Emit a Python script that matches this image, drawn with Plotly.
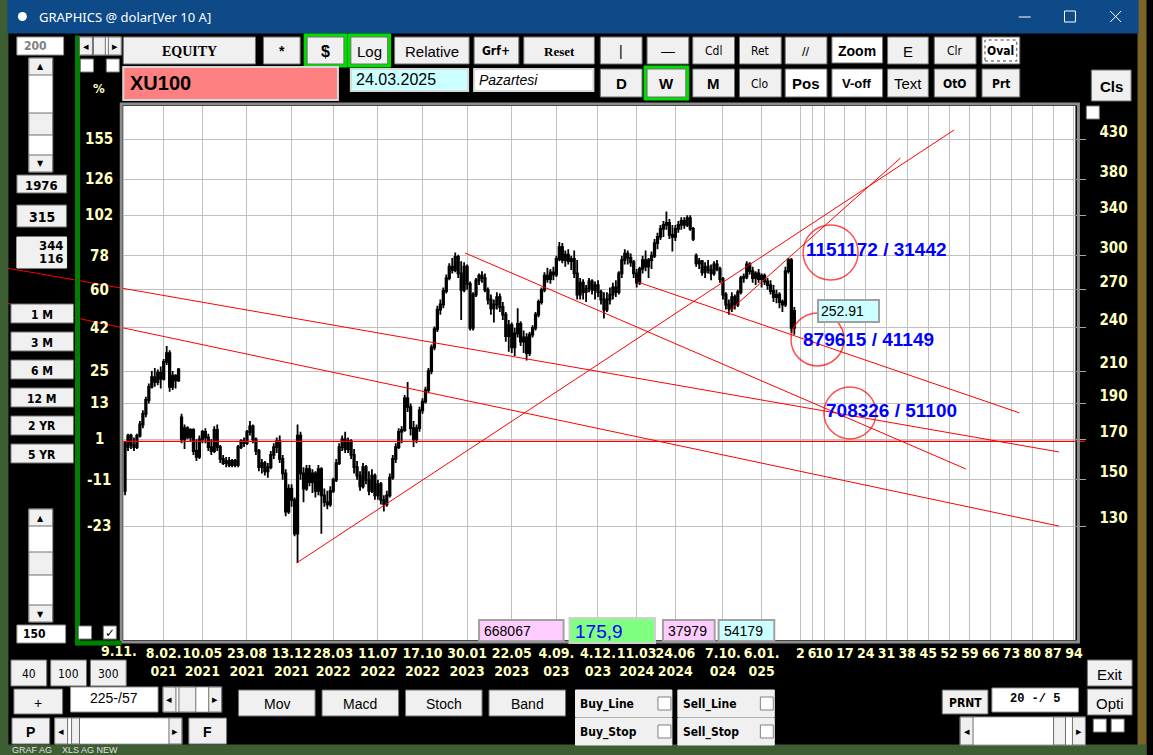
import numpy as np
import plotly.graph_objects as go

W, H = 1153, 755

# ---------------- data (weekly bars, last bar = 24.03.2025 at index 0) ----------------
opens = [
    145, 166, 172, 167, 166, 172, 178, 184, 192, 200,
    206, 203, 209, 205, 216, 222, 200, 207, 204, 182,
    170, 176, 171, 175, 164, 161, 170, 174, 171, 166,
    164, 175, 166, 160, 158, 159, 157, 159, 157, 166,
    169, 168, 174, 177, 170, 164, 156, 158, 154, 156,
    162, 166, 169, 160, 153, 136, 146, 141, 127, 172,
    153, 146, 155, 149, 153, 145, 155, 143, 140, 139,
    145, 150, 158, 166, 170, 165, 169, 162, 156, 152,
    147, 156, 150, 145, 152, 143, 148, 141, 139, 143,
    151, 160, 166, 174, 175, 193, 188, 176, 170, 176,
    186, 191, 198, 210, 226, 239, 254, 258, 269, 280,
    290, 287, 299, 284, 270, 290, 275, 240, 266, 278,
    282, 280, 270, 262, 255, 258, 264, 256, 250, 234,
    242, 226, 236, 243, 230, 233, 222, 235, 240, 250,
    260, 270, 282, 279, 285, 283, 297, 308, 296, 301,
    295, 297, 284, 266, 276, 268, 271, 277, 270, 274,
    268, 262, 254, 262, 266, 272, 268, 284, 296, 302,
    298, 294, 284, 276, 288, 296, 290, 296, 300, 312,
    318, 326, 330, 332, 320, 318, 326, 330, 334, 330,
    337, 326, 300, 293, 295, 285, 290, 287, 284, 292,
    288, 279, 266, 258, 255, 264, 258, 268, 280, 281,
    292, 286, 280, 284, 279, 282, 277, 274, 269, 264,
    266, 260, 258, 286, 296, 240,
]
highs = [
    169, 173, 173, 171, 173, 180, 186, 194, 202, 210,
    212, 211, 213, 218, 227, 224, 210, 208, 212, 184,
    178, 177, 176, 176, 170, 172, 175, 176, 173, 170,
    177, 178, 167, 162, 161, 161, 160, 160, 167, 170,
    171, 175, 180, 178, 171, 165, 160, 159, 158, 164,
    168, 171, 172, 162, 155, 148, 148, 142, 178, 174,
    156, 157, 157, 155, 154, 157, 156, 146, 145, 147,
    151, 160, 168, 172, 174, 171, 170, 165, 159, 154,
    158, 157, 154, 155, 153, 150, 149, 143, 145, 153,
    162, 168, 176, 177, 195, 203, 190, 180, 178, 188,
    193, 200, 212, 228, 241, 257, 262, 272, 283, 293,
    298, 303, 301, 295, 294, 292, 277, 268, 280, 284,
    286, 284, 272, 266, 262, 268, 267, 260, 252, 246,
    244, 240, 255, 245, 238, 236, 237, 242, 252, 262,
    272, 285, 289, 288, 290, 300, 313, 312, 305, 306,
    300, 305, 296, 280, 279, 274, 280, 279, 277, 278,
    270, 268, 268, 272, 276, 278, 286, 300, 306, 305,
    302, 296, 288, 290, 300, 305, 298, 304, 316, 322,
    330, 334, 344, 336, 330, 330, 334, 338, 338, 340,
    340, 328, 302, 298, 296, 294, 296, 292, 295, 296,
    290, 281, 268, 262, 268, 266, 270, 282, 284, 295,
    294, 290, 286, 288, 284, 284, 280, 278, 274, 270,
    268, 262, 290, 298, 298, 256,
]
lows = [
    143, 164, 165, 164, 165, 171, 176, 182, 190, 199,
    200, 201, 199, 204, 214, 197, 198, 199, 203, 168,
    165, 170, 169, 162, 159, 160, 168, 168, 164, 162,
    163, 164, 158, 157, 156, 156, 156, 156, 156, 165,
    166, 167, 172, 168, 162, 154, 153, 152, 151, 155,
    160, 163, 158, 150, 134, 135, 138, 126, 116, 150,
    140, 145, 147, 144, 142, 143, 127, 138, 137, 138,
    144, 149, 157, 164, 163, 163, 160, 153, 150, 145,
    146, 148, 143, 144, 141, 141, 139, 136, 138, 142,
    150, 158, 165, 168, 174, 185, 172, 166, 168, 174,
    184, 190, 196, 208, 224, 237, 250, 255, 267, 278,
    284, 285, 280, 246, 268, 270, 238, 238, 264, 274,
    276, 268, 258, 250, 244, 254, 252, 246, 230, 223,
    222, 220, 233, 227, 222, 217, 220, 233, 238, 248,
    258, 268, 276, 275, 278, 281, 295, 293, 290, 292,
    287, 280, 262, 262, 262, 260, 268, 266, 262, 264,
    258, 247, 252, 258, 262, 264, 266, 280, 292, 292,
    290, 280, 272, 274, 284, 286, 280, 288, 298, 306,
    315, 318, 325, 316, 304, 314, 322, 325, 326, 328,
    324, 314, 290, 288, 282, 280, 284, 278, 282, 286,
    276, 262, 254, 250, 252, 254, 256, 266, 276, 279,
    283, 276, 274, 276, 272, 274, 270, 266, 260, 259,
    255, 252, 256, 284, 236, 235,
]
closes = [
    168, 172, 167, 166, 172, 178, 184, 192, 200, 206,
    203, 209, 205, 216, 222, 200, 207, 204, 211, 170,
    176, 171, 175, 164, 161, 170, 174, 171, 166, 164,
    175, 166, 160, 158, 159, 157, 159, 157, 166, 169,
    168, 174, 177, 170, 164, 156, 158, 154, 156, 162,
    166, 169, 160, 153, 136, 146, 141, 127, 172, 153,
    146, 155, 149, 153, 145, 155, 143, 140, 139, 145,
    150, 158, 166, 170, 165, 169, 162, 156, 152, 147,
    156, 150, 145, 152, 143, 148, 141, 139, 143, 151,
    160, 166, 174, 175, 193, 188, 176, 170, 176, 186,
    191, 198, 210, 226, 239, 254, 258, 269, 280, 290,
    287, 299, 284, 270, 290, 275, 240, 266, 278, 282,
    280, 270, 262, 255, 258, 264, 256, 250, 234, 242,
    226, 236, 243, 230, 233, 222, 235, 240, 250, 260,
    270, 282, 279, 285, 283, 297, 308, 296, 301, 295,
    297, 284, 266, 276, 268, 271, 277, 270, 274, 268,
    262, 254, 262, 266, 272, 268, 284, 296, 302, 298,
    294, 284, 276, 288, 296, 290, 296, 300, 312, 318,
    326, 330, 332, 320, 318, 326, 330, 334, 330, 337,
    326, 316, 293, 295, 285, 290, 287, 284, 292, 288,
    279, 266, 258, 255, 264, 258, 268, 280, 281, 292,
    286, 280, 284, 279, 282, 277, 274, 269, 264, 266,
    260, 258, 286, 296, 240, 252.91,
]
bar_idx = list(range(-len(closes) + 1, 1))

date_labels = ["8.02.<br>021", "10.05<br>2021", "23.08<br>2021", "13.12<br>2021",
               "28.03<br>2022", "11.07<br>2022", "17.10<br>2022", "30.01<br>2023",
               "22.05<br>2023", "4.09.<br>023", "4.12.<br>023", "11.03<br>2024",
               "24.06<br>2024", "7.10.<br>024", "6.01.<br>025"]
date_pos = [-212, -199, -184, -169, -155, -140, -125, -110, -95, -80, -66, -53, -40, -24, -11]
future_weeks = [2, 6, 10, 17, 24, 31, 38, 45, 52, 59, 66, 73, 80, 87, 94]
first_label = "9.11."
first_pos = -227

price_grid = [130, 150, 170, 190, 210, 240, 270, 300, 340, 380, 430]
pct_labels = ["-23", "-11", "1", "13", "25", "42", "60", "78", "102", "126", "155"]
pct_top_label = "185"
pct_top_price = 481

# trend lines drawn by the user: (bar index, price) -> (bar index, price)
line_x0 = [-266.7, -266.7, -167.3, -22.7, -110.7, -52.7]
line_p0 = [289.7, 260.0, 116.0, 251.2, 302.6, 276.6]
line_x1 = [89.0, 89.0, 53.7, 35.7, 57.7, 75.7]
line_p1 = [163.5, 130.0, 442.6, 405.9, 155.1, 184.5]
base_price = 168.9
base_x = [-225.6, 97.7]

circle_x = [12.2, 7.8, 18.7]
circle_p = [303.0, 231.6, 184.5]
note_text = ["1151172 / 31442", "879615 / 41149", "708326 / 51100"]
note_x = [3.3, 2.3, 10.0]
note_p = [305.4, 231.2, 185.6]

# ---------------- geometry ----------------
X0, X1, Y0, Y1 = 124, 1082, 106, 640
xr = [-225.6, 94.5]
yr = [np.log10(91.4), np.log10(476.7)]
ppx = (X1 - X0) / (xr[1] - xr[0])
ppy = (Y1 - Y0) / (yr[1] - yr[0])
xr_full = [xr[0] - X0 / ppx, xr[1] + (W - X1) / ppx]
yr_full = [yr[0] - (H - Y1) / ppy, yr[1] + Y0 / ppy]

SANS = "Liberation Sans, Arial, sans-serif"
NARROW = "Liberation Sans Narrow, Arial Narrow, DejaVu Sans Condensed, sans-serif"
SERIF = "Liberation Serif, Times New Roman, serif"
MONO = "Liberation Mono, DejaVu Sans Mono, monospace"
YEL = "#ffffc0"

shapes = []
annos = []


def px(x):
    return x / W


def py(y):
    return 1 - y / H


def rect(x0, y0, x1, y1, fill="#f0f0f0", line="#6e6e6e", lw=1, dash="solid", layer="above"):
    shapes.append(dict(type="rect", xref="paper", yref="paper",
                       x0=px(x0), x1=px(x1), y0=py(y1), y1=py(y0),
                       fillcolor=fill, line=dict(color=line, width=lw, dash=dash), layer=layer))


def seg(x0, y0, x1, y1, color="white", lw=1):
    shapes.append(dict(type="line", xref="paper", yref="paper",
                       x0=px(x0), x1=px(x1), y0=py(y0), y1=py(y1),
                       line=dict(color=color, width=lw), layer="above"))


def text(x, y, s, size=13, color="black", family=SANS, bold=False, italic=False, anchor="center"):
    annos.append(dict(xref="paper", yref="paper", x=px(x), y=py(y), text=s, showarrow=False,
                      xanchor=anchor, yanchor="middle",
                      font=dict(size=size, color=color, family=family,
                                weight="bold" if bold else "normal",
                                style="italic" if italic else "normal")))


def button(x0, y0, x1, y1, s, size=13, family=SANS, bold=False, fill="#f0f0f0", border=None):
    if border:
        rect(x0 - 3, y0 - 3, x1 + 3, y1 + 3, fill=border, line=border)
    rect(x0, y0, x1, y1, fill=fill)
    text((x0 + x1) / 2, (y0 + y1) / 2 + 1, s, size=size, family=family, bold=bold)


def checkbox(x0, y0, checked=False):
    rect(x0, y0, x0 + 13, y0 + 13, fill="white", line="#808080")
    if checked:
        text(x0 + 6.5, y0 + 7, "✓", size=12, family="DejaVu Sans", bold=True)


def vscroll(x0, y0, x1, y1, t0, t1):
    rect(x0, y0, x1, y1, fill="white", line="#a0a0a0")
    rect(x0, y0, x1, y0 + 17)
    text((x0 + x1) / 2, y0 + 9, "▲", size=8, family="DejaVu Sans")
    rect(x0, t0, x1, t1)
    rect(x0, y1 - 17, x1, y1)
    text((x0 + x1) / 2, y1 - 8, "▼", size=8, family="DejaVu Sans")


def hscroll(x0, y0, x1, y1, t0, t1):
    rect(x0, y0, x1, y1, fill="white", line="#a0a0a0")
    rect(x0, y0, x0 + 13, y1)
    text(x0 + 6.5, (y0 + y1) / 2, "◂", size=11, family="DejaVu Sans")
    rect(t0, y0, t1, y1)
    rect(x1 - 13, y0, x1, y1)
    text(x1 - 6.5, (y0 + y1) / 2, "▸", size=11, family="DejaVu Sans")


# ---------------- window frame ----------------
rect(X0, Y0, X1, Y1, fill="white", line="white", lw=0, layer="below")
rect(X0 - 2, Y0 - 2, X1 + 3, Y1 + 2, fill="rgba(0,0,0,0)", line="#8c8c8c", lw=3)
rect(0, 0, 8, H, fill="#3d5e33", line="#3d5e33")
rect(W - 8, 0, W, H, fill="#7a6428", line="#7a6428")
rect(0, H - 10, W, H, fill="#3d5e33", line="#3d5e33")
text(10, H - 5, "GRAF AG    XLS AG NEW", size=9, color="#e0e0e0", anchor="left")
rect(8, 0, W - 8, 33, fill="#0e4a87", line="#0e4a87")
shapes.append(dict(type="circle", xref="paper", yref="paper", x0=px(18), x1=px(27), y0=py(21), y1=py(12),
                   fillcolor="white", line=dict(color="white", width=0), layer="above"))
text(37, 17, "GRAPHICS @ dolar[Ver 10 A]", size=13, color="white", family="Noto Sans, DejaVu Sans", anchor="left")
seg(1025, 17, 1037, 17)
rect(1071, 11, 1082, 22, fill="rgba(0,0,0,0)", line="white")
seg(1117, 11, 1128, 22)
seg(1117, 22, 1128, 11)

# green frame of the left panel
rect(76, 36, 80, 645, fill="#008000", line="#008000")
rect(76, 641, 122, 645, fill="#008000", line="#008000")

# ---------------- left panel ----------------
rect(17, 37, 64, 55, fill="white", line="#909090")
text(36, 46, "200", size=12, color="#808080", family=NARROW, bold=True)
vscroll(29, 58, 53, 172, 113, 135)
hscroll(80, 37, 122, 55, 94, 106)
checkbox(81, 59)
checkbox(107, 59)
button(17, 175, 67, 193, "1976", size=13, family=NARROW, bold=True)
button(17, 205, 67, 227, "315", size=14, family=NARROW, bold=True)
rect(17, 237, 67, 268, fill="#f0f0f0", line="#f0f0f0")
text(65, 245, "344", size=13, family=NARROW, bold=True, anchor="right")
text(65, 259, "116", size=13, family=NARROW, bold=True, anchor="right")
for i, s in enumerate(["1 M", "3 M", "6 M", "12 M", "2 YR", "5 YR"]):
    button(11, 304 + 28 * i, 74, 323 + 28 * i, s, size=12, family=NARROW, bold=True)
vscroll(29, 509, 53, 622, 552, 575)
rect(17, 625, 66, 643, fill="white", line="#909090")
text(21, 634, "150", size=12, family=NARROW, bold=True, anchor="left")
checkbox(79, 626)
checkbox(104, 626, checked=True)
text(100, 88, "%", size=13, color=YEL, family=NARROW, bold=True)

# ---------------- top toolbar ----------------
button(124, 37, 257, 64, "EQUITY", size=14, family=SERIF, bold=True)
button(265, 37, 302, 64, "*", size=14, bold=True)
button(309, 37, 346, 64, "$", size=16, bold=True, border="#00e000")
button(353, 37, 390, 64, "Log", size=15, border="#00e000")
button(397, 37, 472, 64, "Relative", size=15)
button(477, 37, 522, 64, "Grf+", size=12, family=NARROW, bold=True)
button(527, 37, 598, 64, "Reset", size=13, family=SERIF, bold=True)
button(604, 37, 646, 64, "|", size=14)
button(651, 37, 693, 64, "—", size=14)
button(697, 37, 739, 64, "Cdl", size=12, family=NARROW)
button(744, 37, 786, 64, "Ret", size=12, family=NARROW)
button(790, 37, 832, 64, "//", size=13)
button(837, 37, 888, 63, "Zoom", size=14, bold=True, fill="white")
button(893, 37, 934, 64, "E", size=15)
button(940, 37, 982, 64, "Clr", size=12, family=NARROW)
button(988, 37, 1026, 64, "Oval", size=12, family=NARROW, bold=True, fill="white")
rect(991, 40, 1023, 61, fill="rgba(0,0,0,0)", line="#404040", dash="dot")

rect(124, 67, 340, 100, fill="#ff8080", line="#d8d8d8", lw=2)
text(129, 83, "XU100", size=20, bold=True, anchor="left")
rect(353, 69, 471, 91, fill="#ccffff", line="#d8d8d8", lw=2)
text(356, 80, "24.03.2025", size=16, anchor="left")
rect(477, 69, 597, 91, fill="white", line="#d8d8d8", lw=2)
text(480, 80, "Pazartesi", size=14, italic=True, anchor="left")
button(604, 69, 646, 97, "D", size=15, bold=True)
button(651, 69, 690, 97, "W", size=15, bold=True, border="#00e000")
button(697, 69, 739, 97, "M", size=15, bold=True)
button(744, 69, 786, 97, "Clo", size=12, family=NARROW)
button(790, 69, 832, 97, "Pos", size=15, bold=True, fill="white")
button(837, 69, 888, 97, "V-off", size=13, bold=True, fill="white")
button(893, 69, 934, 97, "Text", size=15)
button(940, 69, 982, 97, "OtO", size=12, family=NARROW, bold=True)
button(988, 69, 1026, 97, "Prt", size=12, family=NARROW, bold=True)
button(1098, 70, 1138, 101, "Cls", size=15, bold=True)
checkbox(1093, 106)

# ---------------- boxes inside the chart bottom ----------------
rect(482, 620, 567, 641, fill="#ffccff", line="#a0a0a0", lw=2)
text(485, 631, "668067", size=14, anchor="left")
rect(573, 618, 659, 643, fill="#80ff80", line="#d0d0d0", lw=2)
text(577, 631, "175,9", size=19, color="#0000ff", anchor="left")
rect(667, 620, 719, 641, fill="#ffccff", line="#a0a0a0", lw=2)
text(670, 631, "37979", size=14, anchor="left")
rect(723, 620, 779, 641, fill="#ccffff", line="#a0a0a0", lw=2)
text(726, 631, "54179", size=14, anchor="left")

# ---------------- bottom toolbar ----------------
button(11, 660, 47, 686, "40", size=12, family=NARROW)
button(51, 660, 87, 686, "100", size=12, family=NARROW)
button(91, 660, 127, 686, "300", size=12, family=NARROW)
button(14, 689, 63, 714, "+", size=14)
rect(71, 687, 159, 712, fill="white", line="#909090")
text(115, 698, "225-/57", size=14)
hscroll(164, 687, 223, 712, 180, 197)
for i, s in enumerate(["Mov", "Macd", "Stoch", "Band"]):
    button(240 + 84 * i, 690, 317 + 84 * i, 716, s, size=14)
for (x0, y0, s) in [(579, 690, "Buy_Line"), (682, 690, "Sell_Line"),
                    (579, 718, "Buy_Stop"), (682, 718, "Sell_Stop")]:
    rect(x0, y0, x0 + 97, y0 + 27, fill="#f0f0f0", line="#f0f0f0")
    text(x0 + 3, y0 + 14, s, size=12, family=NARROW, bold=True, anchor="left")
    checkbox(x0 + 83, y0 + 7)
button(12, 718, 50, 744, "P", size=14, bold=True)
hscroll(55, 718, 183, 744, 72, 80)
button(190, 718, 228, 744, "F", size=14, bold=True)
button(948, 690, 994, 714, "PRNT", size=12, family=NARROW, bold=True)
rect(998, 688, 1085, 712, fill="white", line="#909090")
text(1041, 699, "20 -/ 5", size=12, family=MONO, bold=True)
button(1094, 660, 1139, 686, "Exit", size=15)
button(1094, 689, 1139, 715, "Opti", size=15)
hscroll(966, 717, 1092, 745, 1060, 1072)
checkbox(1100, 719)
checkbox(1118, 719)

# ---------------- axis side labels ----------------
for lab, val in zip(pct_labels + [pct_top_label], price_grid + [pct_top_price]):
    annos.append(dict(xref="paper", yref="y", x=px(100), y=np.log10(val), text=lab, showarrow=False,
                      xanchor="center", yanchor="middle",
                      font=dict(size=15, color=YEL, family=NARROW, weight="bold")))
annos.append(dict(xref="x2", yref="paper", x=first_pos, y=py(641), text=first_label, showarrow=False,
                  xanchor="center", yanchor="top",
                  font=dict(size=14, color=YEL, family=NARROW, weight="bold")))

# notes written on the chart
for s, xx, pp in zip(note_text, note_x, note_p):
    annos.append(dict(xref="x", yref="y", x=xx, y=np.log10(pp), text=s, showarrow=False,
                      xanchor="left", yanchor="middle",
                      font=dict(size=19, color="#0000ff", family=SANS, weight="bold")))
annos.append(dict(xref="x", yref="y", x=7.7, y=np.log10(closes[-1]), text=f"{closes[-1]:.2f}",
                  showarrow=False, xanchor="left", yanchor="middle", align="left", width=55,
                  bgcolor="#ccffff", bordercolor="#a0a0a0", borderwidth=2, borderpad=2,
                  font=dict(size=14, color="black", family=SANS)))

# ---------------- traces ----------------
fig = go.Figure()
fig.add_trace(go.Candlestick(
    x=bar_idx, open=opens, high=highs, low=lows, close=closes,
    increasing=dict(line=dict(color="black", width=1.8), fillcolor="#1ee61e"),
    decreasing=dict(line=dict(color="black", width=1.8), fillcolor="black"),
    whiskerwidth=0, hoverinfo="skip", xaxis="x", yaxis="y"))

for a, b, c, d in zip(line_x0, line_p0, line_x1, line_p1):
    fig.add_trace(go.Scatter(x=[a, c], y=[b, d], mode="lines", line=dict(color="#ff0000", width=1),
                             hoverinfo="skip", xaxis="x2", yaxis="y2"))
fig.add_trace(go.Scatter(x=base_x, y=[base_price, base_price], mode="lines",
                         line=dict(color="#ff0000", width=1.3), hoverinfo="skip", xaxis="x2", yaxis="y2"))
fig.add_trace(go.Scatter(x=circle_x, y=circle_p, mode="markers",
                         marker=dict(symbol="circle-open", size=[55, 53, 52], color="#ff0000",
                                     line=dict(color="#ff0000", width=1.5)),
                         hoverinfo="skip", xaxis="x", yaxis="y"))

x_tick_font = dict(size=14, color=YEL, family=NARROW, weight="bold")
y_tick_font = dict(size=15, color=YEL, family=NARROW, weight="bold")
fig.update_layout(
    width=W, height=H, margin=dict(l=0, r=0, t=0, b=0),
    paper_bgcolor="black", plot_bgcolor="rgba(0,0,0,0)", showlegend=False,
    xaxis=dict(domain=[X0 / W, X1 / W], range=xr, anchor="y",
               tickvals=date_pos + future_weeks,
               ticktext=date_labels + [str(v) for v in future_weeks],
               showgrid=True, gridcolor="#c0c0c0", gridwidth=1, zeroline=False, showline=False,
               ticks="", tickfont=x_tick_font, ticklabelstandoff=3, tickangle=0,
               rangeslider=dict(visible=False), fixedrange=True),
    yaxis=dict(domain=[1 - Y1 / H, 1 - Y0 / H], type="log", range=yr, side="right", anchor="x",
               tickvals=price_grid, ticktext=[str(v) for v in price_grid],
               showgrid=True, gridcolor="#c0c0c0", gridwidth=1, zeroline=False, showline=False,
               ticks="outside", ticklen=10, tickcolor="#a8a8a8", tickfont=y_tick_font,
               ticklabelstandoff=10, ticklabelshift=-8, fixedrange=True),
    xaxis2=dict(domain=[0, 1], range=xr_full, anchor="y2", visible=False, fixedrange=True),
    yaxis2=dict(domain=[0, 1], range=yr_full, type="log", anchor="x2", visible=False, fixedrange=True),
    shapes=shapes, annotations=annos,
)

fig.write_html("out.html", config={"displayModeBar": False},
               post_script="document.body.style.margin='0';document.body.style.overflow='hidden';")
